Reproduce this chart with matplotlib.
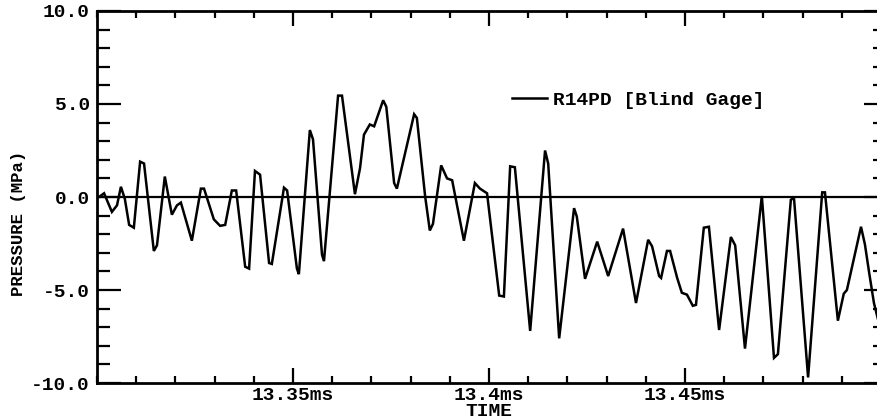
import matplotlib
matplotlib.use("Agg")
import matplotlib.pyplot as plt
from matplotlib.ticker import FixedLocator, MultipleLocator, NullFormatter

# ---- data ----
time_ms = [13.3005, 13.3018, 13.3038, 13.3051, 13.3061, 13.3071, 13.3082, 13.3094,
           13.3110, 13.3120, 13.3145, 13.3153, 13.3173, 13.3191, 13.3204, 13.3214,
           13.3242, 13.3265, 13.3273, 13.3298, 13.3314, 13.3327, 13.3344, 13.3355,
           13.3378, 13.3388, 13.3403, 13.3416, 13.3439, 13.3446, 13.3477, 13.3485,
           13.3510, 13.3515, 13.3543, 13.3551, 13.3574, 13.3579, 13.3615, 13.3625,
           13.3658, 13.3671, 13.3681, 13.3696, 13.3707, 13.3730, 13.3738, 13.3758,
           13.3765, 13.3809, 13.3816, 13.3837, 13.3849, 13.3857, 13.3878, 13.3893,
           13.3906, 13.3936, 13.3964, 13.3977, 13.3995, 13.4026, 13.4038, 13.4054,
           13.4066, 13.4105, 13.4143, 13.4151, 13.4179, 13.4217, 13.4224, 13.4245,
           13.4276, 13.4304, 13.4342, 13.4375, 13.4406, 13.4416, 13.4434, 13.4439,
           13.4454, 13.4462, 13.4480, 13.4492, 13.4505, 13.4520, 13.4528, 13.4548,
           13.4561, 13.4587, 13.4617, 13.4628, 13.4653, 13.4696, 13.4727, 13.4737,
           13.4770, 13.4778, 13.4814, 13.4850, 13.4857, 13.4890, 13.4905, 13.4913,
           13.4949, 13.4959, 13.4970, 13.4982, 13.4992]
pressure_mpa = [0.0, 0.2, -0.8, -0.45, 0.55, -0.1, -1.5, -1.65,
                1.9, 1.8, -2.9, -2.6, 1.1, -0.95, -0.45, -0.3,
                -2.35, 0.45, 0.45, -1.2, -1.55, -1.5, 0.35, 0.35,
                -3.75, -3.85, 1.4, 1.2, -3.55, -3.6, 0.5, 0.35,
                -3.85, -4.15, 3.6, 3.1, -3.1, -3.45, 5.45, 5.45,
                0.15, 1.55, 3.35, 3.9, 3.8, 5.2, 4.85, 0.75,
                0.45, 4.45, 4.25, 0.05, -1.8, -1.45, 1.7, 1.0,
                0.9, -2.35, 0.75, 0.45, 0.2, -5.3, -5.35, 1.65,
                1.6, -7.2, 2.5, 1.8, -7.6, -0.6, -1.05, -4.4,
                -2.4, -4.25, -1.7, -5.7, -2.3, -2.65, -4.25, -4.35,
                -2.9, -2.9, -4.35, -5.15, -5.25, -5.85, -5.8, -1.65,
                -1.6, -7.15, -2.15, -2.6, -8.15, 0.05, -8.65, -8.45,
                -0.15, -0.05, -9.7, 0.25, 0.25, -6.65, -5.2, -5.0,
                -1.6, -2.55, -4.1, -5.7, -6.55]

series_label = "R14PD [Blind Gage]"
x_ticks = [13.35, 13.40, 13.45]
x_tick_labels = ["13.35ms", "13.4ms", "13.45ms"]
y_ticks = [-10, -5, 0, 5, 10]
y_tick_labels = ["-10.0", "-5.0", "0.0", "5.0", "10.0"]
x_range = (13.30, 13.50)
y_range = (-10, 10)

FONT = "Liberation Mono"

W, H = 878, 419
fig = plt.figure(figsize=(W / 100, H / 100), dpi=100)
left, right, top, bottom = 97, 881, 11, 383
ax = fig.add_axes([left / W, 1 - bottom / H, (right - left) / W, (bottom - top) / H])

ax.plot(time_ms, pressure_mpa, color="black", lw=1.8, label=series_label,
        solid_joinstyle="miter")
ax.axhline(0, color="black", lw=1.6)

ax.set_xlim(*x_range)
ax.set_ylim(*y_range)

for s in ax.spines.values():
    s.set_linewidth(2.0)

ax.xaxis.set_major_locator(FixedLocator(x_ticks))
ax.set_xticklabels(x_tick_labels)
ax.xaxis.set_minor_locator(MultipleLocator(0.01))
ax.yaxis.set_major_locator(FixedLocator(y_ticks))
ax.set_yticklabels(y_tick_labels)
ax.yaxis.set_minor_locator(MultipleLocator(1))

ax.tick_params(axis="x", which="major", direction="in", top=True, bottom=True,
               length=11, width=1.6, pad=3)
ax.tick_params(axis="x", which="minor", direction="in", top=True, bottom=True,
               length=5, width=1.6)
ax.tick_params(axis="y", which="major", direction="in", left=True, right=False,
               length=17, width=1.6, pad=5)
ax.tick_params(axis="y", which="minor", direction="in", left=True, right=False,
               length=9, width=1.6)

for lab in ax.get_xticklabels() + ax.get_yticklabels():
    lab.set_fontfamily(FONT)
    lab.set_fontweight("bold")
    lab.set_fontsize(14)

# right-hand ticks (shorter)
ax2 = ax.twinx()
ax2.set_ylim(*y_range)
ax2.yaxis.set_major_locator(FixedLocator(y_ticks))
ax2.yaxis.set_minor_locator(MultipleLocator(1))
ax2.yaxis.set_major_formatter(NullFormatter())
ax2.tick_params(axis="y", which="major", direction="in", length=12, width=1.6)
ax2.tick_params(axis="y", which="minor", direction="in", length=6, width=1.6)
for s in ax2.spines.values():
    s.set_visible(False)

ax.set_xlabel("TIME", fontfamily=FONT, fontweight="bold", fontsize=14, labelpad=-1)
fig.text(18.5 / W, 1 - 223 / H, "PRESSURE (MPa)", rotation=90, ha="center",
         va="center", fontfamily=FONT, fontweight="bold", fontsize=12.5)

leg = ax.legend(loc="center left", bbox_to_anchor=((512 - left) / (right - left),
                (bottom - 100) / (bottom - top)),
                frameon=False, borderpad=0, borderaxespad=0, handlelength=1.8,
                handletextpad=0.3,
                prop={"family": FONT, "weight": "bold", "size": 14})

fig.savefig("out.png", dpi=100)
